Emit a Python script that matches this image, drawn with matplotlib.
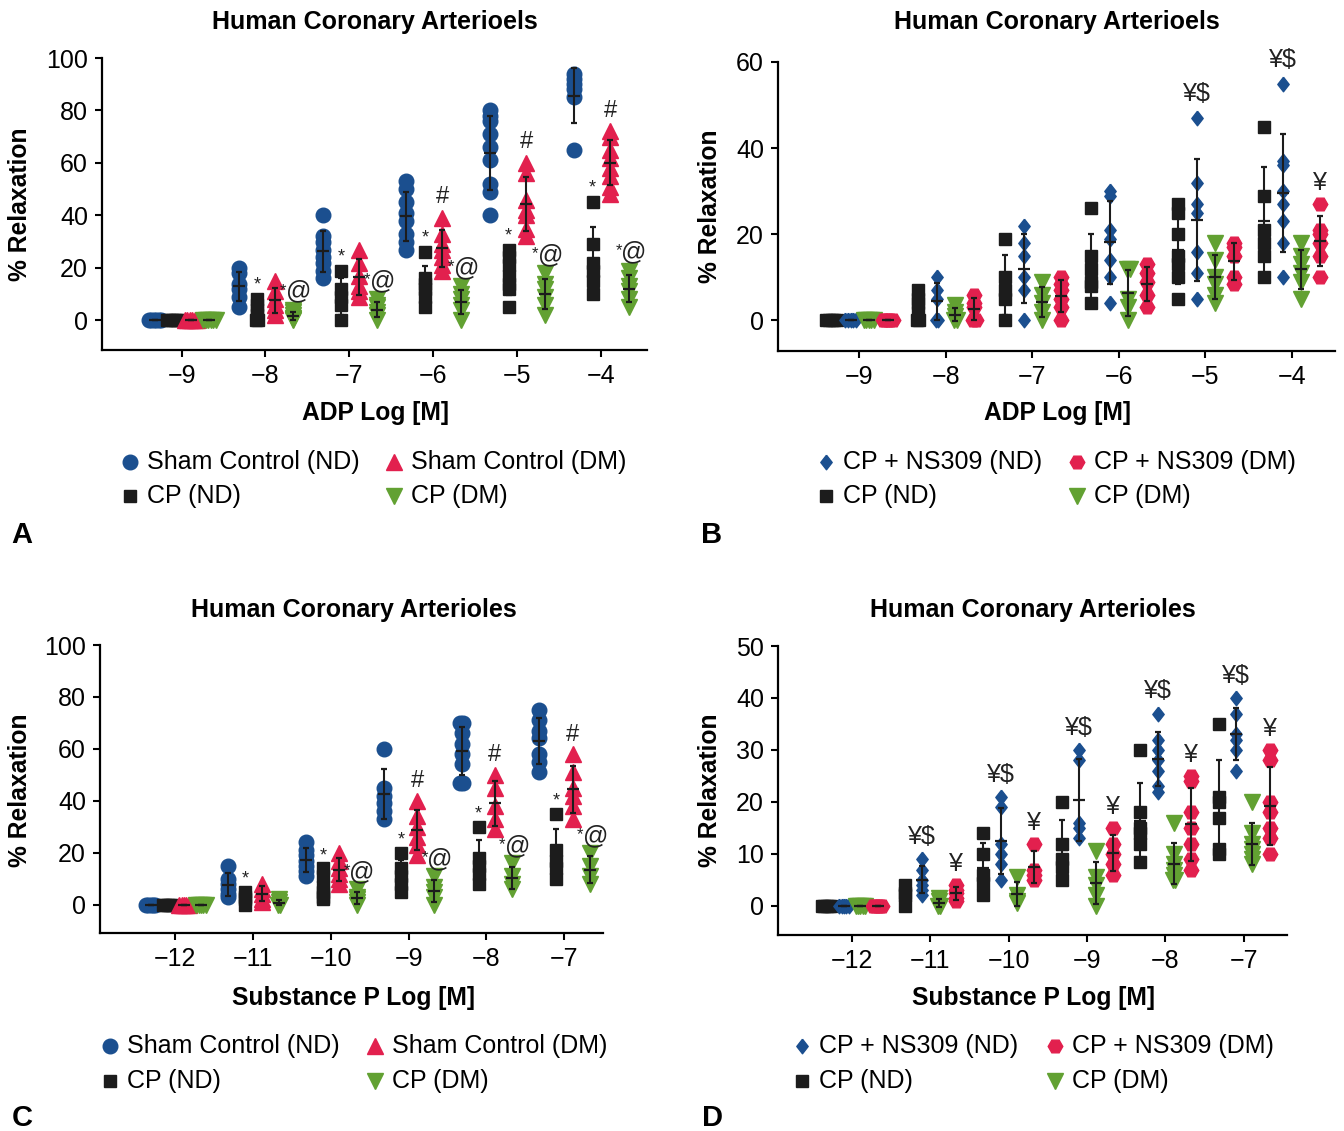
import numpy as np
import matplotlib
matplotlib.use("Agg")
import matplotlib.pyplot as plt
from matplotlib.lines import Line2D

plt.rcParams['font.family'] = ['Liberation Sans', 'DejaVu Sans']

W, H, DPI = 1344, 1131, 100

BLUE = '#1b4f8f'
RED = '#e2204e'
GREEN = '#62a132'
BLACK = '#1c1c1c'

ADP_DOSES = [-9, -8, -7, -6, -5, -4]
SP_DOSES = [-12, -11, -10, -9, -8, -7]

# panel A: ADP, sham vs CP  (one list of points per dose)
a_sham_nd = [[0, 0, 0, 0, 0, 0], [20, 18, 14, 12, 9, 5], [40, 32, 30, 27, 24, 22, 19, 16],
             [53, 50, 45, 41, 38, 33, 30, 27], [80, 78, 76, 71, 66, 61, 52, 49, 40], [94, 92, 90, 88, 85, 65]]
a_cp_nd = [[0, 0, 0, 0, 0, 0], [8, 6, 4, 2, 0, 0], [19, 12, 9, 6, 0],
           [26, 16, 14, 12, 9, 5], [27, 24, 21, 17, 14, 12, 5], [45, 29, 22, 19, 15, 10]]
a_sham_dm = [[0, 0, 0, 0, 0, 0], [15, 11, 8, 6, 4, 2], [27, 22, 17, 13, 11, 9],
             [39, 33, 29, 27, 24, 21, 19], [60, 56, 46, 42, 40, 35, 32], [72, 70, 65, 62, 58, 55, 51, 48]]
a_cp_dm = [[0, 0, 0, 0, 0, 0], [4, 3, 2, 1, 0.5, 0], [8, 6, 5, 3, 2, 0],
           [13, 10, 8, 6, 4, 0], [18, 14, 12, 9, 6, 2], [19, 16, 13, 11, 8, 5]]

# panel B: ADP, CP with / without NS309
b_cp_nd = [[0, 0, 0, 0, 0], [7, 5, 4, 2, 0, 0], [19, 10, 7, 5, 0],
           [26, 15, 12, 9, 8, 4], [27, 25, 20, 15, 13, 10, 5], [45, 29, 21, 18, 15, 10]]
b_ns_nd = [[0, 0, 0, 0, 0], [10, 7, 5, 0, 0], [22, 18, 15, 10, 7, 0],
           [30, 29, 21, 19, 14, 10, 4], [47, 32, 27, 25, 16, 11, 5], [55, 37, 36, 30, 27, 23, 18, 10]]
b_cp_dm = [[0, 0, 0, 0, 0], [3.5, 2, 1, 0, 0], [9, 6, 4, 2, 0],
           [12, 12, 5, 3, 0], [18, 14, 10, 8.5, 6, 4], [18, 15, 13, 11, 9, 5]]
b_ns_dm = [[0, 0, 0, 0, 0], [6, 4, 3, 0, 0], [10, 8.5, 7, 5, 3, 0],
           [13, 11, 9, 6, 3], [18, 17, 15, 10, 8.5], [27, 21, 20, 18, 15, 10]]

# panel C: substance P, sham vs CP
c_sham_nd = [[0, 0, 0, 0, 0], [15, 10, 8, 6, 4, 3], [24, 21, 19, 17, 15, 13, 11],
             [60, 45, 42, 39, 36, 33], [70, 70, 66, 62, 58, 54, 47, 47], [75, 71, 67, 64, 58, 55, 51]]
c_cp_nd = [[0, 0, 0, 0, 0], [5, 3, 2, 0], [14, 11, 7, 5, 3, 2],
           [20, 14, 11, 8, 5], [30, 18, 15, 12, 8], [35, 21, 17, 14, 10]]
c_sham_dm = [[0, 0, 0, 0, 0], [8, 6, 4, 2, 1], [20, 17, 14, 12, 10, 8],
             [40, 34, 30, 26, 23, 19], [50, 45, 38, 33, 29], [58, 51, 45, 42, 38, 33]]
c_cp_dm = [[0, 0, 0, 0, 0], [2, 1, 0, 0], [6, 3, 2, 1, 0],
           [11, 7, 5, 3, 0], [16, 11, 8, 6], [20, 15, 11, 8]]

# panel D: substance P, CP with / without NS309
d_cp_nd = [[0, 0, 0, 0, 0], [4, 2.5, 2, 0], [14, 10, 6, 4.5, 2],
           [20, 12, 9, 7.5, 5], [30, 18, 15, 14, 12, 8.5], [35, 21, 20, 17, 11, 10]]
d_ns_nd = [[0, 0, 0, 0, 0], [9, 7, 5, 4, 3, 2], [21, 19, 12, 10, 8, 5],
           [30, 28, 16, 15, 13], [37, 32, 30, 28, 26, 23, 22], [40, 37, 33, 32, 30, 26]]
d_cp_dm = [[0, 0, 0, 0, 0], [1.5, 1, 0, 0], [5.5, 2, 1, 0.5],
           [10.5, 5.5, 4, 2, 0], [16, 10, 8, 7, 6, 5, 5], [20, 14, 12, 11, 10, 9, 8]]
d_ns_dm = [[0, 0, 0, 0, 0], [4, 3, 2.5, 1.5, 1], [12, 7, 6, 5],
           [15, 12, 10, 8, 6], [25, 24, 18, 15, 12, 9, 7], [30, 28, 20, 18, 15, 13, 10]]

# significance marks: dose indices that carry each symbol
a_star, a_hash, a_at = [1, 2, 3, 4, 5], [3, 4, 5], [1, 2, 3, 4, 5]
b_yen_dollar, b_yen = [4, 5], [5]
c_star, c_hash, c_at = [1, 2, 3, 4, 5], [3, 4, 5], [2, 3, 4, 5]
d_yen_dollar, d_yen = [1, 2, 3, 4, 5], [1, 2, 3, 4, 5]

DIAMOND = [(0, 1), (0.78, 0), (0, -1), (-0.78, 0), (0, 1)]
STYLE = {
    'Sham Control (ND)': ('o', BLUE, 10.5),
    'Sham Control (DM)': ('^', RED, 11.5),
    'CP (ND)': ('s', BLACK, 8.5),
    'CP (DM)': ('v', GREEN, 11.5),
    'CP + NS309 (ND)': (DIAMOND, BLUE, 10.5),
    'CP + NS309 (DM)': ('H', RED, 10.5),
}
OFFSETS = [-0.32, -0.1, 0.11, 0.33]


def px_box(l, t, r, b):
    return [l / W, 1 - b / H, (r - l) / W, (b - t) / H]


def ftext(x, y, s, **kw):
    fig.text(x / W, 1 - y / H, s, ha='center', va='center', **kw)


def draw_panel(ax, doses, series, xlim, ylim, yticks):
    for i, (name, data) in enumerate(series):
        marker, color, ms = STYLE[name]
        for dose, vals in zip(doses, data):
            vals = np.asarray(vals, dtype=float)
            x = np.full(len(vals), dose + OFFSETS[i])
            # spread identical values sideways a little
            for v in np.unique(vals):
                idx = np.where(vals == v)[0]
                x[idx] += (np.arange(len(idx)) - (len(idx) - 1) / 2) * 0.03
            ax.plot(x, vals, ls='none', marker=marker, color=color, ms=ms,
                    mec=color, zorder=3, clip_on=False)
            ax.errorbar(dose + OFFSETS[i], vals.mean(), yerr=vals.std(ddof=1),
                        fmt='_', color=BLACK, ms=8, mew=1.6, elinewidth=1.5,
                        capsize=2.5, capthick=1.5, zorder=4)
    ax.set_xlim(*xlim)
    ax.set_ylim(*ylim)
    ax.set_xticks(doses)
    ax.set_xticklabels([f'\u2212{abs(d)}' for d in doses])
    ax.set_yticks(yticks)
    for s in ['top', 'right']:
        ax.spines[s].set_visible(False)
    for s in ['left', 'bottom']:
        ax.spines[s].set_linewidth(1.6)
    ax.tick_params(direction='out', length=5, width=1.5, labelsize=18, pad=5)


def mark(ax, x, vals, text, size, dy):
    kw = dict(xycoords='data', textcoords='offset points', ha='center', va='center',
              color='#222222', annotation_clip=False, zorder=5)
    if text == '*@':
        ax.annotate('@', (x, max(vals)), xytext=(4, dy), fontsize=size, **kw)
        ax.annotate('*', (x, max(vals)), xytext=(-7, dy + 1), fontsize=12, **kw)
    else:
        ax.annotate(text, (x, max(vals)), xytext=(0, dy), fontsize=size, **kw)


def legend(x1, x2, y1, y2, names):
    pos = [(x1, y1), (x2, y1), (x1, y2), (x2, y2)]
    for (x, y), name in zip(pos, names):
        marker, color, ms = STYLE[name]
        fig.add_artist(Line2D([x / W], [1 - y / H], marker=marker, color=color,
                              ms=ms, ls='none', transform=fig.transFigure))
        fig.text((x + 17) / W, 1 - y / H, name, ha='left', va='center', fontsize=18)


fig = plt.figure(figsize=(W / DPI, H / DPI), dpi=DPI)

# ---- A
axA = fig.add_axes(px_box(102, 58, 647, 350))
draw_panel(axA, ADP_DOSES, [('Sham Control (ND)', a_sham_nd), ('CP (ND)', a_cp_nd),
                            ('Sham Control (DM)', a_sham_dm), ('CP (DM)', a_cp_dm)],
           (-9.95, -3.45), (-11.3, 100), [0, 20, 40, 60, 80, 100])
for j in a_star:
    mark(axA, ADP_DOSES[j] + OFFSETS[1], a_cp_nd[j], '*', 13, 10)
for j in a_hash:
    mark(axA, ADP_DOSES[j] + OFFSETS[2], a_sham_dm[j], '#', 17, 15)
for j in a_at:
    mark(axA, ADP_DOSES[j] + OFFSETS[3], a_cp_dm[j], '*@', 18, 13)

# ---- B
axB = fig.add_axes(px_box(778, 62, 1335, 351))
draw_panel(axB, ADP_DOSES, [('CP (ND)', b_cp_nd), ('CP + NS309 (ND)', b_ns_nd),
                            ('CP (DM)', b_cp_dm), ('CP + NS309 (DM)', b_ns_dm)],
           (-9.94, -3.5), (-7.1, 60), [0, 20, 40, 60])
for j in b_yen_dollar:
    mark(axB, ADP_DOSES[j] + OFFSETS[1], b_ns_nd[j], '\u00a5$', 18, 17)
for j in b_yen:
    mark(axB, ADP_DOSES[j] + OFFSETS[3], b_ns_dm[j], '\u00a5', 18, 15)

# ---- C
axC = fig.add_axes(px_box(100, 645, 603, 933))
draw_panel(axC, SP_DOSES, [('Sham Control (ND)', c_sham_nd), ('CP (ND)', c_cp_nd),
                           ('Sham Control (DM)', c_sham_dm), ('CP (DM)', c_cp_dm)],
           (-12.97, -6.5), (-10.9, 100), [0, 20, 40, 60, 80, 100])
for j in c_star:
    mark(axC, SP_DOSES[j] + OFFSETS[1], c_cp_nd[j], '*', 13, 9)
for j in c_hash:
    mark(axC, SP_DOSES[j] + OFFSETS[2], c_sham_dm[j], '#', 17, 14)
for j in c_at:
    mark(axC, SP_DOSES[j] + OFFSETS[3], c_cp_dm[j], '*@', 18, 12)

# ---- D
axD = fig.add_axes(px_box(778, 646, 1287, 935))
draw_panel(axD, SP_DOSES, [('CP (ND)', d_cp_nd), ('CP + NS309 (ND)', d_ns_nd),
                           ('CP (DM)', d_cp_dm), ('CP + NS309 (DM)', d_ns_dm)],
           (-12.94, -6.45), (-5.6, 50), [0, 10, 20, 30, 40, 50])
for j in d_yen_dollar:
    mark(axD, SP_DOSES[j] + OFFSETS[1], d_ns_nd[j], '\u00a5$', 18, 16)
for j in d_yen:
    mark(axD, SP_DOSES[j] + OFFSETS[3], d_ns_dm[j], '\u00a5', 18, 15)

# ---- titles, axis labels, panel letters
title = dict(fontsize=18, fontweight='bold')
label = dict(fontsize=17.7, fontweight='bold')
ftext(375, 22, 'Human Coronary Arterioels', **title)
ftext(1057, 22, 'Human Coronary Arterioels', **title)
ftext(354, 610, 'Human Coronary Arterioles', **title)
ftext(1033, 610, 'Human Coronary Arterioles', **title)
ftext(375, 413, 'ADP Log [M]', **label)
ftext(1057, 413, 'ADP Log [M]', **label)
ftext(353, 998, 'Substance P Log [M]', **label)
ftext(1033, 998, 'Substance P Log [M]', **label)
for x, y in [(20, 204), (710, 206), (20, 790), (710, 790)]:
    ftext(x, y, '% Relaxation', rotation=90, **label)
for x, y, s in [(22, 535, 'A'), (712, 535, 'B'), (22, 1118, 'C'), (712, 1118, 'D')]:
    ftext(x, y, s, fontsize=21, fontweight='bold')

legend(130, 394, 462, 496, ['Sham Control (ND)', 'Sham Control (DM)', 'CP (ND)', 'CP (DM)'])
legend(826, 1077, 462, 496, ['CP + NS309 (ND)', 'CP + NS309 (DM)', 'CP (ND)', 'CP (DM)'])
legend(110, 375, 1046, 1081, ['Sham Control (ND)', 'Sham Control (DM)', 'CP (ND)', 'CP (DM)'])
legend(802, 1055, 1046, 1081, ['CP + NS309 (ND)', 'CP + NS309 (DM)', 'CP (ND)', 'CP (DM)'])

fig.savefig('out.png', dpi=DPI)
